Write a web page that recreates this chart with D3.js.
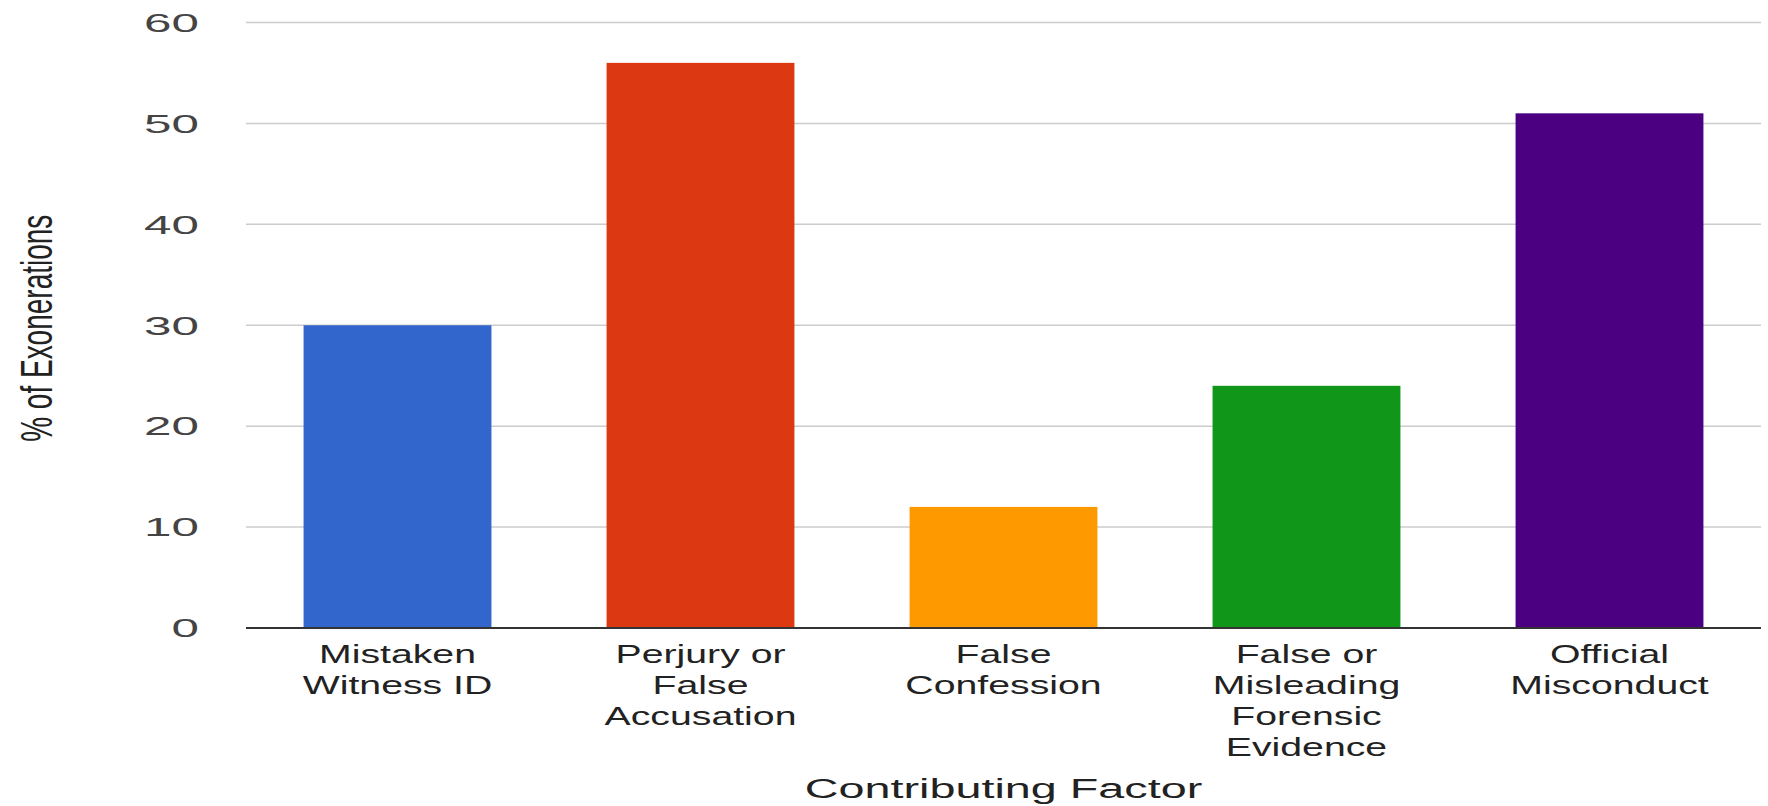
<!DOCTYPE html>
<html>
<head>
<meta charset="utf-8">
<script src="https://cdn.jsdelivr.net/npm/d3@7"></script>
<style>
  html, body { margin: 0; padding: 0; background: #ffffff; }
  svg { display: block; }
  text { font-family: "Liberation Sans", Arial, sans-serif; }
</style>
</head>
<body>
<svg id="chart" width="1768" height="806"></svg>
<script>
// ---- data ----
const categories = [
  ["Mistaken", "Witness ID"],
  ["Perjury or", "False", "Accusation"],
  ["False", "Confession"],
  ["False or", "Misleading", "Forensic", "Evidence"],
  ["Official", "Misconduct"]
];
const values = [30, 56, 12, 24, 51];
const colors = ["#3366cc", "#dc3912", "#ff9900", "#109618", "#4b0082"];
const yTicks = [0, 10, 20, 30, 40, 50, 60];
const xTitle = "Contributing Factor";
const yTitle = "% of Exonerations";

// ---- layout ----
const W = 1768, H = 806;
const plot = { left: 246, right: 1761, top: 22.5, bottom: 628 };

const svg = d3.select("#chart");

const x = d3.scaleBand()
  .domain(d3.range(categories.length))
  .range([plot.left, plot.right])
  .paddingInner(0.38)
  .paddingOuter(0.19);

const y = d3.scaleLinear()
  .domain([0, 60])
  .range([plot.bottom, plot.top]);

// gridlines
svg.append("g").selectAll("line")
  .data(yTicks.filter(d => d !== 0))
  .join("line")
  .attr("x1", plot.left).attr("x2", plot.right)
  .attr("y1", d => y(d)).attr("y2", d => y(d))
  .attr("stroke", "#cccccc")
  .attr("stroke-width", 1.5);

// bars
svg.append("g").selectAll("rect")
  .data(values)
  .join("rect")
  .attr("x", (d, i) => x(i))
  .attr("width", x.bandwidth())
  .attr("y", d => y(d))
  .attr("height", d => y(0) - y(d))
  .attr("fill", (d, i) => colors[i]);

// baseline
svg.append("line")
  .attr("x1", plot.left).attr("x2", plot.right)
  .attr("y1", y(0)).attr("y2", y(0))
  .attr("stroke", "#333333")
  .attr("stroke-width", 2);

// y tick labels
const tickFs = 26, tickSx = 1.9;
svg.append("g").selectAll("g")
  .data(yTicks)
  .join("g")
  .attr("transform", d => `translate(199, ${y(d) + 0.358 * tickFs}) scale(${tickSx},1)`)
  .append("text")
  .attr("text-anchor", "end")
  .attr("font-size", tickFs)
  .attr("fill", "#444444")
  .text(d => d);

// x category labels
const catFs = 25, catSx = 1.57, lineH = 31, firstBase = 663;
const cats = svg.append("g").selectAll("g")
  .data(categories)
  .join("g")
  .attr("transform", (d, i) => `translate(${x(i) + x.bandwidth() / 2}, ${firstBase}) scale(${catSx},1)`);
cats.append("text")
  .attr("text-anchor", "middle")
  .attr("font-size", catFs)
  .attr("fill", "#222222")
  .selectAll("tspan")
  .data(d => d)
  .join("tspan")
  .attr("x", 0)
  .attr("y", (d, j) => j * lineH)
  .text(d => d);

// x axis title
svg.append("g")
  .attr("transform", `translate(${(plot.left + plot.right) / 2}, 798) scale(1.67,1)`)
  .append("text")
  .attr("text-anchor", "middle")
  .attr("font-size", 28)
  .attr("fill", "#222222")
  .text(xTitle);

// y axis title
svg.append("g")
  .attr("transform", `translate(52, ${(plot.top + plot.bottom) / 2 + 3}) scale(1.6,1) rotate(-90)`)
  .append("text")
  .attr("text-anchor", "middle")
  .attr("font-size", 28)
  .attr("fill", "#222222")
  .text(yTitle);
</script>
</body>
</html>
